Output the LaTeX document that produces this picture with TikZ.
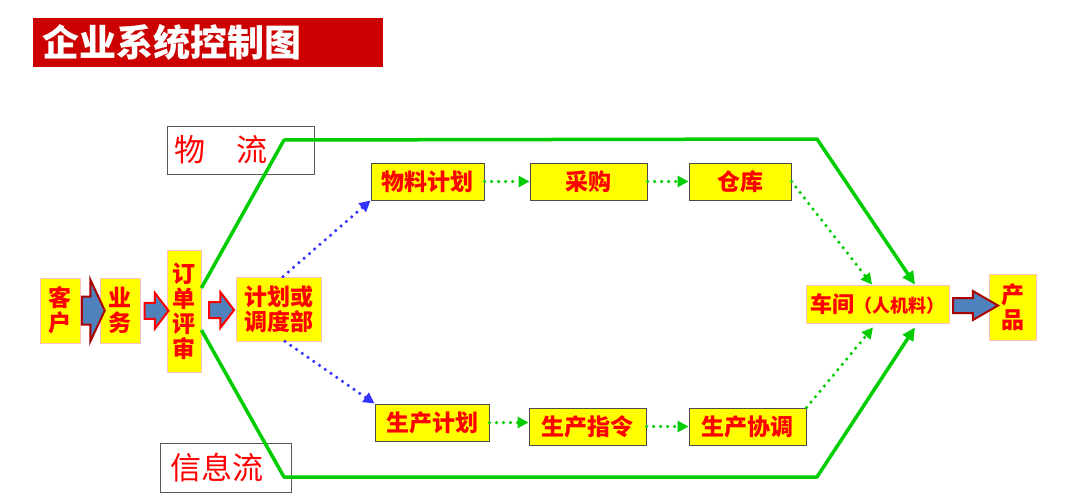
\documentclass[tikz,border=0pt]{standalone}
\usepackage{fontspec}
\usepackage{xcolor}
\newfontfamily\cjk{Noto Sans CJK SC}
\definecolor{boxyellow}{RGB}{255,255,0}
\definecolor{txtred}{RGB}{255,0,0}
\definecolor{titlered}{RGB}{204,0,0}
\definecolor{flowgreen}{RGB}{0,204,0}
\definecolor{dotblue}{RGB}{51,51,255}
\definecolor{arrblue}{RGB}{79,129,189}
\definecolor{arrred}{RGB}{170,0,0}
\usetikzlibrary{arrows.meta,positioning,shapes.arrows,calc}

\begin{document}
\begin{tikzpicture}[x=1pt,y=-1pt,
  ybox/.style={fill=boxyellow,draw=red!25,line width=0.8pt,text=txtred,align=center,inner sep=0pt,
    font=\cjk\bfseries\fontsize{23}{25}\selectfont},
  kbox/.style={ybox,draw=black!70,line width=1pt,minimum height=37pt},
  tag/.style={draw=black!65,line width=1pt,text=txtred,align=left,anchor=west,inner ysep=0pt,
    font=\cjk\fontsize{31}{31}\selectfont},
  fatarrow/.style={single arrow,draw=txtred,fill=arrblue,line width=2pt,inner xsep=0pt},
  flow/.style={flowgreen,line width=3.5pt,line join=round,-{Triangle[length=13pt,width=12pt]}},
  dots/.style={line width=3.5pt,line cap=round,dash pattern=on 0pt off 7pt,-{Triangle[length=11pt,width=11pt]}}
]
  \useasboundingbox (0,0) rectangle (1080,498);

  \node[fill=titlered,anchor=west,inner xsep=9pt,text width=332pt,minimum height=49pt,align=left,
    text=white,font=\cjk\bfseries\fontsize{37}{37}\selectfont] (title) at (33,42.5) {企业系统控制图};

  \node[tag,minimum height=48pt,inner xsep=7pt,text width=133pt] (wuliu) at (167,150) {物\hspace{1em}流};
  \node[tag,minimum height=49pt,inner xsep=10pt,text width=111pt] (xinxi) at (160,467.5) {信息流};

  \node[ybox,minimum width=40pt,minimum height=65pt] (kehu) at (60,310.5) {客\\户};
  \node[ybox,minimum width=40pt,minimum height=65pt] (yewu) at (120,310.5) {业\\务};
  \node[ybox,minimum width=34pt,minimum height=122pt] (dingdan) at (184,311) {订\\单\\评\\审};
  \node[ybox,minimum width=85pt,minimum height=64pt] (jihua) at (278.5,309) {计划或\\调度部};
  \node[ybox,minimum width=143pt,minimum height=38pt,font=\cjk\bfseries\fontsize{22}{22}\selectfont] (chejian)
    at (877.5,304) {车间{\fontsize{18}{18}\selectfont（人机料）}};
  \node[ybox,minimum width=47pt,minimum height=66pt] (chanpin) at (1012.5,307) {产\\品};

  \foreach \nm/\x/\y/\w/\txt in {
    wuliao/427.5/181.5/113/物料计划,
    caigou/588.5/181.5/117/采购,
    cangku/740/181.5/102/仓库,
    shengchan/432/422.5/114/生产计划,
    zhiling/587.5/426.5/117/生产指令,
    xietiao/747.5/426.5/117/生产协调}{
    \node[kbox,minimum width=\w pt] (\nm) at (\x,\y) {\txt};
  }

  \node[fatarrow,draw=arrred,inner ysep=13pt,minimum height=23pt,minimum width=60pt,
    single arrow head extend=17pt,single arrow tip angle=130] (a1) at ($(kehu.east)!0.5!(yewu.west)$) {};
  \node[fatarrow,inner ysep=7pt,minimum height=24pt,minimum width=34pt,
    single arrow head extend=10pt,single arrow tip angle=105] (a2) at ($(yewu.east)!0.5!(dingdan.west)$) {};
  \node[fatarrow,inner ysep=7pt,minimum height=25pt,minimum width=34pt,
    single arrow head extend=10pt,single arrow tip angle=105] (a3) at ($(dingdan.east)!0.5!(jihua.west)$) {};
  \node[fatarrow,draw=arrred,inner ysep=6.5pt,minimum height=45pt,minimum width=27pt,
    single arrow head extend=7pt,single arrow tip angle=60] (a4) at ($(chejian.east)!0.5!(chanpin.west)$) {};

  \coordinate (tl) at (284,140);
  \coordinate (tr) at (817,139);
  \coordinate (bl) at (284,477);
  \coordinate (br) at (817,477);
  \draw[flow] ([yshift=23pt]dingdan.east) -- (tl) -- (tr) -- ([xshift=37.5pt]chejian.north);
  \draw[flow] ([yshift=-19pt]dingdan.east) -- (bl) -- (br) -- ([xshift=37.5pt,yshift=-4pt]chejian.south);

  \draw[dots,dotblue] ([xshift=4.5pt]jihua.north) -- (wuliao.south west);
  \draw[dots,dotblue] ([xshift=6.5pt]jihua.south) -- (shengchan.north west);

  \foreach \a/\b in {wuliao/caigou,caigou/cangku,shengchan/zhiling,zhiling/xietiao}
    \draw[dots,flowgreen] (\a.east) -- (\a.east -| \b.west);
  \draw[dots,flowgreen] (cangku.east) -- ([xshift=-5.5pt]chejian.north);
  \draw[dots,flowgreen] (xietiao.north east) -- ([xshift=-4.5pt,yshift=-4pt]chejian.south);
\end{tikzpicture}
\end{document}
